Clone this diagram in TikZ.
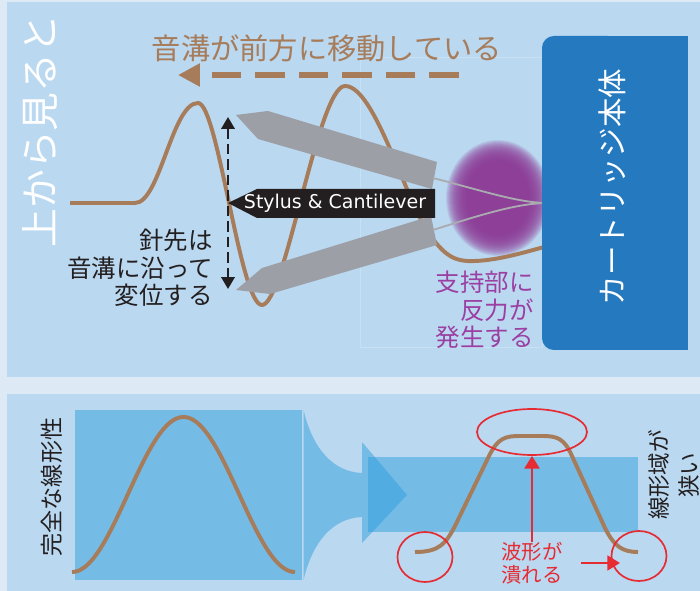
\documentclass[tikz,border=0pt]{standalone}
\usepackage{fontspec}
\setmainfont{Noto Sans CJK JP}
\newfontfamily\labelfont{DejaVu Sans}
\usetikzlibrary{arrows.meta, shapes.geometric, calc}

\definecolor{pagebg}{HTML}{DDEAF6}
\definecolor{panelblue}{HTML}{BAD8F0}
\definecolor{faintline}{HTML}{C8E0F3}
\definecolor{groovebrown}{HTML}{A77C5A}
\definecolor{cartridgeblue}{HTML}{2479BF}
\definecolor{armgray}{HTML}{9C9FA6}
\definecolor{wiregray}{HTML}{A9ABB0}
\definecolor{labelblack}{HTML}{231F20}
\definecolor{textdark}{HTML}{231F20}
\definecolor{blobpurple}{HTML}{8E3A97}
\definecolor{textpurple}{HTML}{9B40A2}
\definecolor{boxblue}{HTML}{2F9FDE}
\definecolor{markred}{HTML}{E62B33}

\begin{document}
\begin{tikzpicture}[x = 0.025cm, y = -0.025cm,
	> = {Triangle[length = 8.5pt, width = 9.5pt]},
	groove/.style = {line width = 2.8pt, groovebrown},
	groove shift/.style = {line width = 4.3pt, groovebrown, dash pattern = on 21pt off 10pt,
		-{Triangle[length = 15.6pt, width = 15.6pt]}},
	swing/.style = {<->, line width = 1.8pt, textdark, dash pattern = on 7.5pt off 3.5pt},
	arm/.style = {fill = armgray},
	wire/.style = {line width = 1.3pt, wiregray},
	wave box/.style = {fill = boxblue, fill opacity = 0.5},
	red ring/.style = {ellipse, draw = markred, line width = 1.2pt, inner sep = 0pt},
	red pointer/.style = {line width = 1.8pt, markred, -{Triangle[length = 9pt, width = 10.5pt]}}]

% Page and panels

\useasboundingbox (0, 0) rectangle (700, 591);
\fill[pagebg] (0, 0) rectangle (700, 591);
\fill[panelblue] (7, 2) rectangle (700, 377);
\fill[panelblue] (7, 394) rectangle (700, 591);
\draw[faintline, line width = 0.4pt] (360, 57) rectangle (542, 347);

% Top view: support under load (soft edge from stacked layers)

\foreach \k in {0, ..., 22}
	\fill[blobpurple, opacity = 0.12] (498, 198) ellipse [x radius = {30 + \k}, y radius = {36 + \k}];

% Groove seen from above

\draw[groove] (70, 203) -- (135, 203)
	.. controls (160, 203) and (172, 103) .. (198, 103)
	.. controls (218, 103) and (240, 305) .. (262, 305)
	.. controls (285, 305) and (318, 86) .. (345, 86)
	.. controls (375, 86) and (405, 200) .. (430, 235)
	.. controls (445, 256) and (455, 262) .. (475, 261)
	.. controls (500, 260) and (525, 252) .. (548, 246);

% Stylus and cantilever, two positions

\fill[arm] (236, 115) -- (268, 111) -- (437, 162) -- (432, 189) -- (258, 139) -- cycle;
\fill[arm] (236, 290) -- (262, 268) -- (431, 216) -- (437, 245) -- (270, 294) -- cycle;

\draw[wire] (433, 178) .. controls (480, 190) and (515, 202) .. (545, 203);
\draw[wire] (433, 230) .. controls (480, 215) and (515, 204) .. (545, 203);

\fill[labelblack] (228, 203) -- (257, 189) -- (435, 189) -- (435, 218) -- (257, 218) -- cycle;
\node[text = white, font = \labelfont\fontsize{13.5}{16}\selectfont] (stylus) at (335, 203.5) {Stylus \& Cantilever};

% Stylus swing

\coordinate (swing top) at (228, 117);
\coordinate (swing bottom) at (228, 289);
\draw[swing] (swing top) -- (swing bottom);

% Groove moving forward

\coordinate (groove tail) at (459, 75);
\coordinate (groove head) at (178, 75);
\draw[groove shift] (groove tail) -- (groove head);
\node[text = groovebrown, font = \fontsize{20.8}{24}\selectfont] (groove title) at (327, 48) {音溝が前方に移動している};

% Cartridge body

\fill[cartridgeblue, rounded corners = 8.5pt] (542, 36) rectangle (620, 350);
\fill[cartridgeblue] (600, 36) rectangle (688, 350);
\node[rotate = 90, text = white, font = \fontsize{21}{24}\selectfont] (cartridge) at (612, 187) {カートリッジ本体};

% Labels

\node[rotate = 90, text = white, font = \fontsize{27.6}{30}\selectfont] (top view) at (40, 131) {上から見ると};
\node[anchor = east, align = right, text = textdark, inner sep = 0pt, font = \fontsize{17.4}{19.5}\selectfont] (tip text) at (213, 268) {針先は\\音溝に沿って\\変位する};
\node[anchor = east, align = right, text = textpurple, inner sep = 0pt, font = \fontsize{17.4}{19.5}\selectfont] (support text) at (534, 310) {支持部に\\反力が\\発生する};

% Linear range: wide vs narrow

\fill[wave box] (75, 410) rectangle (302, 580);
\fill[wave box] (303.5, 410) .. controls (313, 450) and (334, 472) .. (362, 473) -- (362, 442)
	-- (407, 495) -- (362, 543) -- (362, 517) .. controls (334, 518) and (313, 540) .. (303.5, 580) -- cycle;
\fill[wave box] (368, 457) rectangle (638, 532);

\draw[groove] plot[domain = 72:295, samples = 80] (\x, {494.5 + 77.5*cos(1.6143*(\x - 72))});

\draw[groove] (415, 552) .. controls (440, 552) and (446, 543) .. (455, 526) -- (489, 456)
	.. controls (498, 438) and (505, 436) .. (520, 436) -- (542, 436)
	.. controls (557, 436) and (564, 438) .. (572, 456) -- (605, 528)
	.. controls (614, 546) and (622, 552) .. (638, 552);

\node[rotate = 90, text = textdark, font = \fontsize{16.4}{20}\selectfont] (linear text) at (52, 487) {完全な線形性};
\node[rotate = 90, align = center, text = textdark, font = \fontsize{16}{21.3}\selectfont] (narrow text) at (674, 475) {線形域が\\狭い};

% Clipped peaks

\node[red ring, minimum width = 2.75cm, minimum height = 1.15cm] (flat top) at (532, 432) {};
\node[red ring, minimum width = 1.375cm, minimum height = 1.25cm] (left clip) at (425, 557) {};
\node[red ring, minimum width = 1.375cm, minimum height = 1.25cm] (right clip) at (639, 556) {};

\node[align = center, text = markred, inner sep = 0pt, font = \fontsize{14.5}{16.4}\selectfont] (squash) at (532, 563) {波形が\\潰れる};
\coordinate (clip point) at (620, 563);
\draw[red pointer] (squash.north) -- (flat top.south);
\draw[red pointer] ($(squash.east) + (18, 0)$) -- (clip point);

\end{tikzpicture}
\end{document}
